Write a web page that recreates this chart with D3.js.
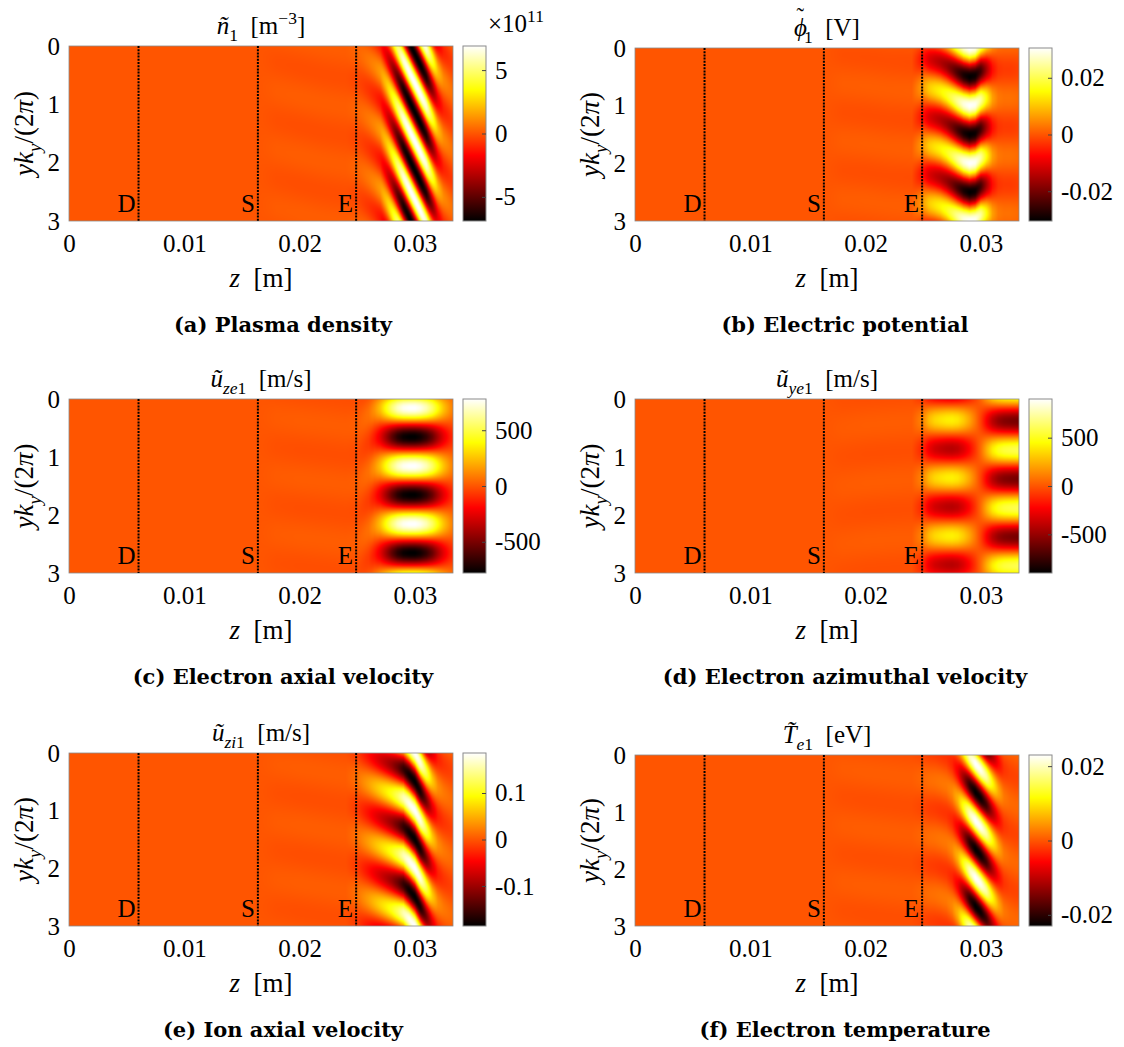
<!DOCTYPE html>
<html>
<head>
<meta charset="utf-8">
<script src="https://cdn.jsdelivr.net/npm/d3@7"></script>
<style>
  body { margin: 0; background: #fff; }
  text { font-family: "Liberation Serif", "Times New Roman", serif; fill: #000; }
</style>
</head>
<body>
<div id="chart"></div>
<script>
// axial nodes (m) at which amplitude and phase of each mode were read
const zNodes = [0, 0.0164, 0.018, 0.020, 0.022, 0.024, 0.025, 0.0255, 0.026, 0.0265, 0.027, 0.0275,
                0.028, 0.0285, 0.029, 0.0295, 0.030, 0.0305, 0.031, 0.0315, 0.032, 0.0325, 0.033, 0.0333]
const zTicks = [0, 0.01, 0.02, 0.03]
const yTicks = [0, 1, 2, 3]
const markerZ = [0.00603, 0.01638, 0.0249]
const markerNames = ["D", "S", "E"]

// amplitude (plotted units) and crest position (in periods of y k_y / 2pi)
const densityAmp = [0, 0, 0.12, 0.15, 0.15, 0.15, 0.3, 0.48, 0.69, 0.97, 1.38, 2.21, 3.45, 4.97, 6.35, 6.9, 6.9, 6.9, 6.21, 4.14, 2.07, 1.04, 0.69, 0.55]
const densityPhase = [0, -0.3, -0.22, -0.12, -0.02, 0.05, 0.1, 0.17, 0.25, 0.34, 0.44, 0.64, 0.84, 1.04, 1.24, 1.44, 1.64, 1.84, 2.04, 2.24, 2.44, 2.6, 2.72, 2.8]
const potentialAmp = [0, 0, 0.0006, 0.0007, 0.0007, 0.0008, 0.0067, 0.0107, 0.0128, 0.0146, 0.0168, 0.0201, 0.0244, 0.0284, 0.0305, 0.0296, 0.0244, 0.0153, 0.0067, 0.0031, 0.0024, 0.0024, 0.0021, 0.0018]
const potentialPhase = [0, 0.6, 0.62, 0.66, 0.72, 0.75, 0.68, 0.7, 0.72, 0.75, 0.8, 0.86, 0.92, 0.97, 1.0, 0.98, 0.9, 0.87, 0.87, 0.87, 0.87, 0.87, 0.87, 0.87]
const uzeAmp = [0, 0, 12, 16, 16, 16, 20, 39, 62, 140, 250, 406, 562, 686, 757, 780, 780, 741, 663, 546, 390, 250, 140, 94]
const uzePhase = [0, 0.3, 0.33, 0.38, 0.43, 0.48, 0.45, 0.35, 0.25, 0.18, 0.155, 0.155, 0.155, 0.155, 0.155, 0.155, 0.155, 0.155, 0.155, 0.155, 0.155, 0.155, 0.155, 0.155]
const uyeAmp = [0, 0, 14, 18, 18, 18, 135, 270, 342, 378, 405, 414, 387, 315, 216, 90, -60, -240, -400, -500, -550, -570, -580, -600]
const uyePhase = [0, 0.5, 0.5, 0.45, 0.42, 0.4, 0.36, 0.36, 0.36, 0.36, 0.36, 0.36, 0.36, 0.36, 0.36, 0.36, 0.38, 0.38, 0.38, 0.38, 0.38, 0.38, 0.38, 0.38]
const uziAmp = [0, 0, 0.003, 0.004, 0.004, 0.004, 0.0149, 0.0279, 0.0409, 0.0558, 0.0707, 0.0856, 0.1023, 0.1265, 0.1581, 0.1804, 0.186, 0.1711, 0.1209, 0.0651, 0.0298, 0.0186, 0.013, 0.0112]
const uziPhase = [0, 0.17, 0.2, 0.26, 0.33, 0.4, 0.45, 0.5, 0.54, 0.58, 0.62, 0.66, 0.7, 0.74, 0.78, 0.88, 1.0, 1.18, 1.34, 1.48, 1.6, 1.7, 1.78, 1.82]
const teAmp = [0, 0, 0.0004, 0.0005, 0.0005, 0.0005, 0.00115, 0.0016, 0.0018, 0.0021, 0.0023, 0.0032, 0.0064, 0.0127, 0.0196, 0.023, 0.0223, 0.0184, 0.0115, 0.0058, 0.0023, 0.0014, 0.0012, 0.0012]
const tePhase = [0, -0.8, -0.76, -0.7, -0.65, -0.6, -0.58, -0.56, -0.55, -0.52, -0.47, -0.36, -0.22, -0.094, 0.026, 0.146, 0.266, 0.386, 0.506, 0.626, 0.746, 0.82, 0.88, 0.9]

// colour limits and colorbar ticks
const climits = [6.9, 0.0305, 780, 900, 0.186, 0.023]
const cbTicks = [[-5, 0, 5], [-0.02, 0, 0.02], [-500, 0, 500], [-500, 0, 500], [-0.1, 0, 0.1], [-0.02, 0, 0.02]]
const captions = ["(a) Plasma density", "(b) Electric potential", "(c) Electron axial velocity",
                  "(d) Electron azimuthal velocity", "(e) Ion axial velocity", "(f) Electron temperature"]
const titles = [
    [["ñ", "i"], ["1", "sub"], ["\u2002[m", ""], ["\u22123", "sup"], ["]", ""]],
    [["ϕ", "i"], ["˜", "acc"], ["1", "sub"], ["\u2002[V]", ""]],
    [["ũ", "i"], ["ze", "isub"], ["1", "sub"], ["\u2002[m/s]", ""]],
    [["ũ", "i"], ["ye", "isub"], ["1", "sub"], ["\u2002[m/s]", ""]],
    [["ũ", "i"], ["zi", "isub"], ["1", "sub"], ["\u2002[m/s]", ""]],
    [["T\u0303", "i"], ["e", "isub"], ["1", "sub"], ["\u2002[eV]", ""]]
]

const fields = [
    [densityAmp, densityPhase], [potentialAmp, potentialPhase], [uzeAmp, uzePhase],
    [uyeAmp, uyePhase], [uziAmp, uziPhase], [teAmp, tePhase]
]

// layout
const W = 384
const layout = [
    {left: 69, top: 46, bottom: 221, cap: 283},
    {left: 635, top: 48, bottom: 221, cap: 845},
    {left: 69, top: 399, bottom: 573, cap: 283},
    {left: 635, top: 399, bottom: 573, cap: 845},
    {left: 69, top: 753, bottom: 926, cap: 283},
    {left: 635, top: 755, bottom: 926, cap: 845}
]

// matlab "hot"
function hot(t) {
    let r = Math.min(1, Math.max(0, t / 0.375))
    let g = Math.min(1, Math.max(0, (t - 0.375) / 0.375))
    let b = Math.min(1, Math.max(0, (t - 0.75) / 0.25))
    return [r * 255, g * 255, b * 255]
}

let svg = d3.select("#chart").append("svg")
    .attr("width", 1124)
    .attr("height", 1047)

let defs = svg.append("defs")
let grad = defs.append("linearGradient").attr("id", "hotgrad")
    .attr("x1", 0).attr("y1", 1).attr("x2", 0).attr("y2", 0)
;[[0, "#000"], [0.375, "#f00"], [0.75, "#ff0"], [1, "#fff"]].forEach(s => {
    grad.append("stop").attr("offset", s[0]).attr("stop-color", s[1])
})

function richText(g, x, y, parts, size, anchor) {
    let t = g.append("text").attr("x", x).attr("y", y)
        .attr("text-anchor", anchor).style("font-size", size + "px")
    let shift = 0
    parts.forEach(p => {
        let s = p[0], st = p[1]
        let target = 0, fs = size, dx = 0
        if (st == "sub" || st == "isub") { target = size * 0.28; fs = size * 0.7 }
        if (st == "sup") { target = -size * 0.42; fs = size * 0.7 }
        if (st == "acc") { target = -size * 0.5; fs = size * 0.9; dx = -size * 0.42 }
        let ts = t.append("tspan")
            .attr("dy", target - shift)
            .style("font-size", fs + "px")
            .style("font-style", (st == "i" || st == "isub") ? "italic" : "normal")
            .text(s)
        if (dx) ts.attr("dx", dx)
        if (st == "acc") {
            // step back so the subscript sits right after the base glyph
            shift = target
            t.append("tspan").attr("dx", -size * 0.12).text("")
        } else {
            shift = target
        }
    })
    return t
}

function drawPanel(k) {
    let L = layout[k]
    let H = L.bottom - L.top
    let lim = climits[k]
    let amp = fields[k][0], phase = fields[k][1]

    let x = d3.scaleLinear().domain([0, 0.0333]).range([L.left, L.left + W])
    let y = d3.scaleLinear().domain([0, 3]).range([L.top, L.bottom])
    let c = d3.scaleLinear().domain([-lim, lim]).range([0, 1]).clamp(true)

    // field raster
    let canvas = document.createElement("canvas")
    canvas.width = W
    canvas.height = H
    let ctx = canvas.getContext("2d")
    let img = ctx.createImageData(W, H)
    for (let i = 0; i < W; i++) {
        let z = x.invert(L.left + i + 0.5)
        let j = Math.min(zNodes.length - 2, Math.max(0, d3.bisectRight(zNodes, z) - 1))
        let f = (z - zNodes[j]) / (zNodes[j + 1] - zNodes[j])
        f = Math.max(0, Math.min(1, f))
        let a = amp[j] + (amp[j + 1] - amp[j]) * f
        let p = phase[j] + (phase[j + 1] - phase[j]) * f
        for (let r = 0; r < H; r++) {
            let Y = y.invert(L.top + r + 0.5)
            let v = a * Math.cos(2 * Math.PI * (Y - p))
            let col = hot(c(v))
            let o = (r * W + i) * 4
            img.data[o] = col[0]
            img.data[o + 1] = col[1]
            img.data[o + 2] = col[2]
            img.data[o + 3] = 255
        }
    }
    ctx.putImageData(img, 0, 0)

    let g = svg.append("g")
    g.append("image")
        .attr("href", canvas.toDataURL())
        .attr("x", L.left).attr("y", L.top)
        .attr("width", W).attr("height", H)
        .attr("preserveAspectRatio", "none")

    g.append("rect")
        .attr("x", L.left).attr("y", L.top)
        .attr("width", W).attr("height", H)
        .attr("fill", "none").attr("stroke", "#8a8a8a").attr("stroke-width", 0.8)

    // D S E lines
    markerZ.forEach((mz, i) => {
        g.append("line")
            .attr("x1", x(mz)).attr("x2", x(mz))
            .attr("y1", L.top).attr("y2", L.bottom)
            .attr("stroke", "#000").attr("stroke-width", 2)
            .attr("stroke-dasharray", "2,1.2")
        g.append("text")
            .attr("x", x(mz) - 3).attr("y", L.bottom - 9)
            .attr("text-anchor", "end")
            .style("font-size", "25px")
            .text(markerNames[i])
    })

    // axes
    let xAxis = g.append("g")
        .attr("transform", "translate(0," + L.bottom + ")")
        .call(d3.axisBottom(x).tickValues(zTicks).tickSize(0).tickPadding(13).tickFormat(d => String(d)))
    let yAxis = g.append("g")
        .attr("transform", "translate(" + L.left + ",0)")
        .call(d3.axisLeft(y).tickValues(yTicks).tickSize(0).tickPadding(9).tickFormat(d => String(d)))
    ;[xAxis, yAxis].forEach(a => {
        a.select(".domain").remove()
        a.selectAll("text").style("font-size", "25px").style("font-family", "Liberation Serif, serif").attr("fill", "#000")
    })

    // labels
    richText(g, L.left + W / 2, L.bottom + 66, [["z", "i"], ["\u2002[m]", ""]], 27, "middle")
    let yl = g.append("g").attr("transform", "translate(" + (L.left - 36) + "," + (L.top + H / 2) + ") rotate(-90)")
    richText(yl, 0, 0, [["yk", "i"], ["y", "isub"], ["/(2", ""], ["π", "i"], [")", ""]], 27, "middle")
    richText(g, L.left + W / 2, L.top - 12, titles[k], 25, "middle")

    g.append("text")
        .attr("x", L.cap).attr("y", L.bottom + 111)
        .attr("text-anchor", "middle")
        .style("font-family", "DejaVu Serif, serif")
        .style("font-size", "21px").style("font-weight", "bold")
        .text(captions[k])

    // colorbar
    let cbx = L.left + W + 10
    let cbw = 23
    let cy = d3.scaleLinear().domain([-lim, lim]).range([L.bottom, L.top])
    g.append("rect")
        .attr("x", cbx).attr("y", L.top)
        .attr("width", cbw).attr("height", H)
        .attr("fill", "url(#hotgrad)")
        .attr("stroke", "#8a8a8a").attr("stroke-width", 1)
    let cAxis = g.append("g")
        .attr("transform", "translate(" + (cbx + cbw) + ",0)")
        .call(d3.axisRight(cy).tickValues(cbTicks[k]).tickSize(-4).tickPadding(9).tickFormat(d => String(d)))
    cAxis.select(".domain").remove()
    cAxis.selectAll("line").attr("stroke", "#444")
    cAxis.selectAll("text").style("font-size", "25px").style("font-family", "Liberation Serif, serif").attr("fill", "#000")

    if (k == 0) {
        richText(g, cbx + 25, L.top - 14, [["×10", ""], ["11", "sup"]], 25, "start")
    }
}

for (let k = 0; k < 6; k++) drawPanel(k)
</script>
</body>
</html>
